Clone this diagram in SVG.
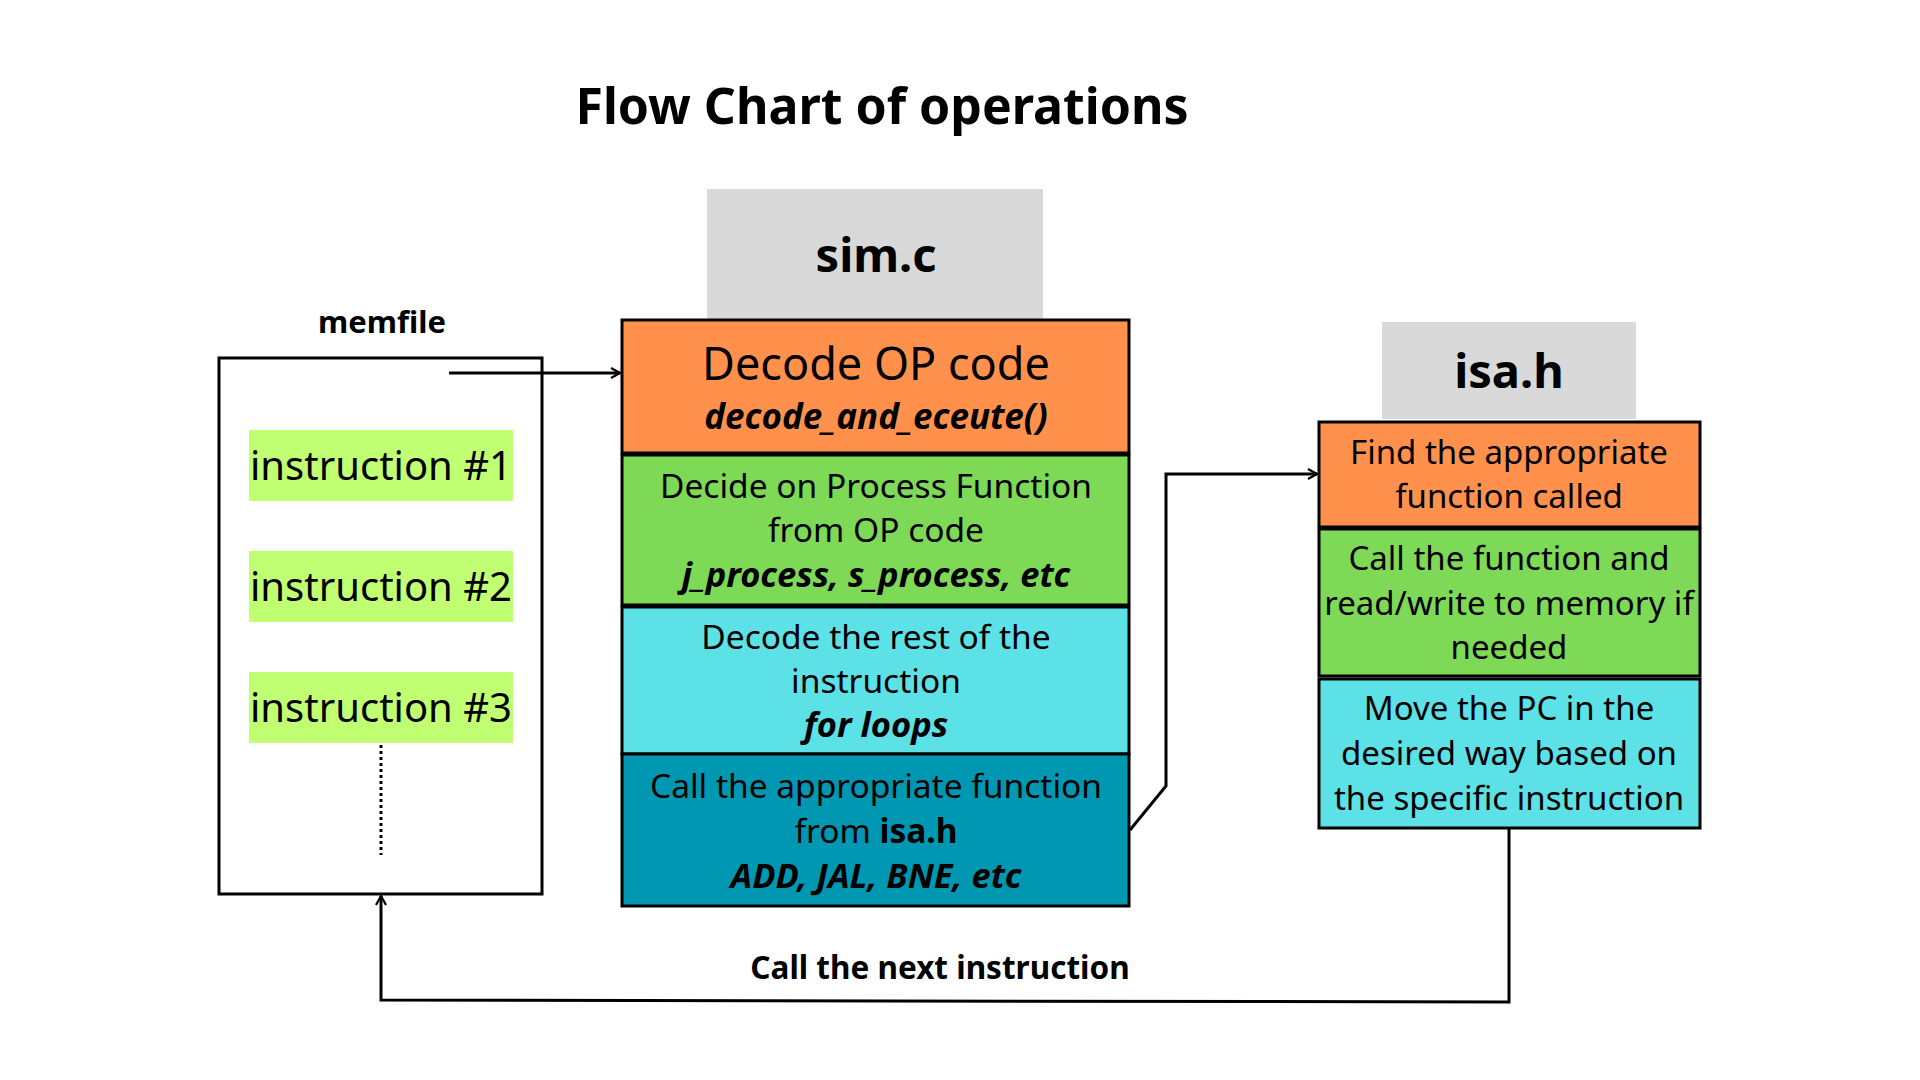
<svg xmlns="http://www.w3.org/2000/svg" width="1920" height="1080" viewBox="0 0 1920 1080">
<defs>
<marker id="arr" viewBox="0 0 12 12" refX="11" refY="6" markerWidth="12" markerHeight="12" markerUnits="userSpaceOnUse" orient="auto">
<path d="M2,1 L11,6 L2,11" fill="none" stroke="#000" stroke-width="2.2"/>
</marker>
<style>
.t{font-family:"Noto Sans","Open Sans",sans-serif;fill:#000;text-anchor:middle}
.b{font-weight:bold}
.bi{font-weight:bold;font-style:italic}
.box{stroke:#000;stroke-width:3}
.ln{fill:none;stroke:#000;stroke-width:3}
</style>
</defs>
<rect width="1920" height="1080" fill="#fff"/>
<text class="t b" x="882" y="124" font-size="50">Flow Chart of operations</text>

<g id="memfile">
<text class="t b" x="382" y="333" font-size="31">memfile</text>
<rect x="219" y="358" width="323" height="536" fill="#fff" class="box"/>
<g id="instr1"><rect x="249" y="430" width="264" height="71" fill="#C1FF72"/><text class="t" x="381" y="480" font-size="40">instruction #1</text></g>
<g id="instr2"><rect x="249" y="551" width="264" height="71" fill="#C1FF72"/><text class="t" x="381" y="601" font-size="40">instruction #2</text></g>
<g id="instr3"><rect x="249" y="672" width="264" height="71" fill="#C1FF72"/><text class="t" x="381" y="722" font-size="40">instruction #3</text></g>
<line x1="381" y1="745" x2="381" y2="855" stroke="#000" stroke-width="3" stroke-dasharray="3,3"/>
</g>

<g id="simc">
<rect x="707" y="189" width="336" height="131" fill="#D9D9D9"/>
<text class="t b" x="876" y="272" font-size="47">sim.c</text>
<g id="sim-decode"><rect x="622" y="320" width="507" height="133" fill="#FF914D" class="box"/>
<text class="t" x="876" y="380" font-size="45">Decode OP code</text>
<text class="t bi" x="876" y="429" font-size="35">decode_and_eceute()</text></g>
<g id="sim-decide"><rect x="622" y="455" width="507" height="150" fill="#7ED957" class="box"/>
<text class="t" x="876" y="498" font-size="33.5">Decide on Process Function</text>
<text class="t" x="876" y="542" font-size="33.5">from OP code</text>
<text class="t bi" x="876" y="587" font-size="34.5">j_process, s_process, etc</text></g>
<g id="sim-rest"><rect x="622" y="607" width="507" height="147" fill="#5CE1E6" class="box"/>
<text class="t" x="876" y="649" font-size="33.5">Decode the rest of the</text>
<text class="t" x="876" y="693" font-size="33.5">instruction</text>
<text class="t bi" x="876" y="737" font-size="34.5">for loops</text></g>
<g id="sim-call"><rect x="622" y="754" width="507" height="152" fill="#0097B2" class="box"/>
<text class="t" x="876" y="798" font-size="33.5">Call the appropriate function</text>
<text class="t" x="876" y="843" font-size="33.5">from <tspan class="b">isa.h</tspan></text>
<text class="t bi" x="876" y="888" font-size="34.5">ADD, JAL, BNE, etc</text></g>
</g>

<g id="isah">
<rect x="1382" y="322" width="254" height="97" fill="#D9D9D9"/>
<text class="t b" x="1509" y="388" font-size="47">isa.h</text>
<g id="isa-find"><rect x="1319" y="422" width="381" height="105" fill="#FF914D" class="box" stroke-width="4"/>
<text class="t" x="1509" y="464" font-size="33">Find the appropriate</text>
<text class="t" x="1509" y="508" font-size="33">function called</text></g>
<g id="isa-call"><rect x="1319" y="529" width="381" height="147" fill="#7ED957" class="box" stroke-width="4"/>
<text class="t" x="1509" y="570" font-size="33">Call the function and</text>
<text class="t" x="1509" y="615" font-size="33">read/write to memory if</text>
<text class="t" x="1509" y="659" font-size="33">needed</text></g>
<g id="isa-move"><rect x="1319" y="679" width="381" height="149" fill="#5CE1E6" class="box" stroke-width="4"/>
<text class="t" x="1509" y="720" font-size="33">Move the PC in the</text>
<text class="t" x="1509" y="765" font-size="33">desired way based on</text>
<text class="t" x="1509" y="810" font-size="33">the specific instruction</text></g>
</g>

<g id="connectors">
<line x1="449" y1="373" x2="620" y2="373" class="ln" marker-end="url(#arr)"/>
<polyline points="1130,830 1166,786 1166,474 1317,474" class="ln" stroke-width="2.5" marker-end="url(#arr)"/>
<polyline points="1509,828 1509,1002 381,1000 381,896" class="ln" stroke-width="2.5" marker-end="url(#arr)"/>
<text class="t b" x="940" y="979" font-size="31.5">Call the next instruction</text>
</g>
</svg>
